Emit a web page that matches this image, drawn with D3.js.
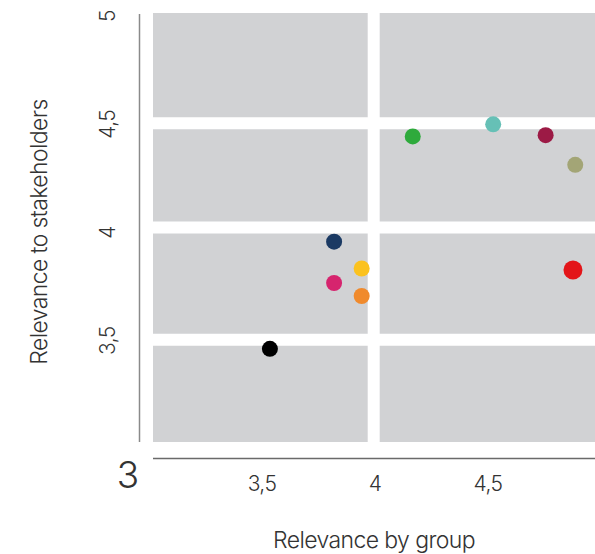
<!DOCTYPE html>
<html>
<head>
<meta charset="utf-8">
<script src="https://cdn.jsdelivr.net/npm/d3@7"></script>
<style>
  body { margin: 0; background: #fff; }
  text { font-family: Inter, "Noto Sans", sans-serif; fill: #333; font-weight: 300; }
</style>
</head>
<body>
<div id="chart"></div>
<script>
// relevance by group (x) and to stakeholders (y) for each topic
const groupScores = [3.535, 3.819, 3.819, 3.941, 3.941, 4.167, 4.523, 4.755, 4.886, 4.876];
const stakeholderScores = [3.458, 3.953, 3.762, 3.829, 3.702, 4.439, 4.495, 4.445, 4.308, 3.822];
const dotColors = ["#000000", "#1b3a63", "#d6246e", "#fbc21f", "#f08a2c", "#2eaa3c", "#66c0b6", "#9c1a45", "#a3a576", "#e31519"];
const xTickValues = [3.5, 4, 4.5];
const yTickValues = [3.5, 4, 4.5, 5];
const gridValuesY = [3.5, 4, 4.5];
const gridValuesX = [4];

const width = 595, height = 554;
const fmt = d => String(d).replace(".", ",");

const svg = d3.select("#chart").append("svg")
  .attr("width", width)
  .attr("height", height);

const x = d3.scaleLinear().domain([3, 5]).range([149, 601]);
const y = d3.scaleLinear().domain([3, 5]).range([448, 15]);

// grey plot background
svg.append("rect")
  .attr("x", x(3) + 4)
  .attr("y", y(5) - 2)
  .attr("width", x(5) - x(3))
  .attr("height", y(3) - 6 - (y(5) - 2))
  .attr("fill", "#d1d2d4");

// thick white gridlines
svg.selectAll(".gy").data(gridValuesY).enter().append("line")
  .attr("x1", x(3)).attr("x2", width)
  .attr("y1", d => y(d) - (d === 4 ? 4 : 0)).attr("y2", d => y(d) - (d === 4 ? 4 : 0))
  .attr("stroke", "#fff").attr("stroke-width", 12);
svg.selectAll(".gx").data(gridValuesX).enter().append("line")
  .attr("x1", x(4) - 1.3).attr("x2", x(4) - 1.3)
  .attr("y1", 0).attr("y2", y(3))
  .attr("stroke", "#fff").attr("stroke-width", 12);

// axis lines
svg.append("line")
  .attr("x1", 139.5).attr("x2", 139.5)
  .attr("y1", y(5) - 1).attr("y2", y(3) - 6)
  .attr("stroke", "#8a8a8a").attr("stroke-width", 1.5);
svg.append("line")
  .attr("x1", x(3) + 4).attr("x2", width)
  .attr("y1", 458.5).attr("y2", 458.5)
  .attr("stroke", "#6a6a6a").attr("stroke-width", 1.5);

// x tick labels
svg.selectAll(".xt").data(xTickValues).enter().append("text")
  .attr("x", d => x(d))
  .attr("y", 491)
  .attr("text-anchor", "middle")
  .attr("font-size", 21)
  .attr("letter-spacing", -0.6)
  .text(fmt);

// y tick labels (rotated)
svg.selectAll(".yt").data(yTickValues).enter().append("text")
  .attr("transform", d => "translate(115," + (y(d) + 1) + ") rotate(-90)")
  .attr("text-anchor", "middle")
  .attr("font-size", 21)
  .attr("letter-spacing", -0.6)
  .text(fmt);

// shared origin label
svg.append("text")
  .attr("x", 128)
  .attr("y", 488)
  .attr("text-anchor", "middle")
  .attr("font-size", 37)
  .text("3");

// axis titles
svg.append("text")
  .attr("x", 374)
  .attr("y", 548)
  .attr("text-anchor", "middle")
  .attr("font-size", 23)
  .attr("letter-spacing", -0.6)
  .text("Relevance by group");
svg.append("text")
  .attr("transform", "translate(47,232) rotate(-90)")
  .attr("text-anchor", "middle")
  .attr("font-size", 23)
  .attr("letter-spacing", -0.6)
  .text("Relevance to stakeholders");

// dots
svg.selectAll(".dot").data(groupScores).enter().append("circle")
  .attr("cx", d => x(d))
  .attr("cy", (d, i) => y(stakeholderScores[i]))
  .attr("r", (d, i) => i === 9 ? 9.5 : 8)
  .attr("fill", (d, i) => dotColors[i]);
</script>
</body>
</html>
